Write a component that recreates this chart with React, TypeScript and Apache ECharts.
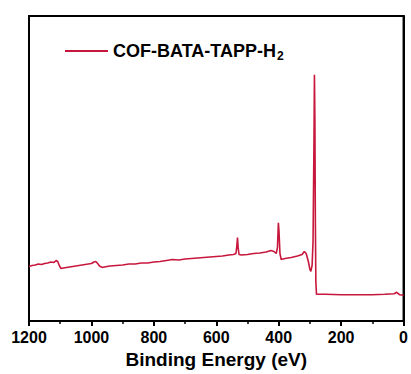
import React, { useEffect, useRef } from "react";
import * as echarts from "echarts";

const seriesName = "COF-BATA-TAPP-H2";
const energies = [
  1200, 1190, 1180, 1170, 1160, 1150, 1140, 1130, 1120, 1113, 1108, 1103, 1098, 1090, 1080, 1070, 1060, 1050, 1040, 1030,
  1020, 1010, 1000, 992, 986, 980, 974, 966, 958, 950, 940, 920, 900, 880, 860, 840, 820, 800, 780, 760,
  740, 720, 700, 680, 660, 640, 620, 600, 580, 560, 545, 537, 534, 532, 530, 527, 520, 500, 480, 460,
  440, 425, 415, 408, 404, 401, 399, 396, 392, 380, 360, 340, 325, 318, 312, 305, 300, 297, 293, 290,
  287, 285.5, 284, 282.5, 281, 279, 270, 250, 200, 150, 100, 60, 30, 22, 18, 12, 0,
];
const intensities = [
  55, 56, 56.5, 57.5, 57, 58, 58.5, 59.5, 59, 61, 60, 56, 53, 53.5, 54, 54.5, 55, 55.5, 56, 56.5,
  57, 57.5, 58, 59.5, 60, 58, 55.5, 54, 54.5, 55, 55.5, 56, 56.5, 57.5, 57.5, 58.5, 58.5, 59.5, 60, 61,
  62, 61.5, 62.5, 63, 63.5, 64, 64.5, 65, 65.5, 66.5, 67, 68, 76, 84, 74, 67, 66.5, 67, 68, 68.5,
  69.5, 71, 70, 68, 74, 99, 90, 68, 62, 63, 64, 65.5, 67, 70, 68, 60, 52, 50, 56, 80,
  180, 248, 200, 100, 40, 27, 27, 27, 26.5, 26.5, 26.5, 27, 27.5, 29, 28, 26.5, 26,
];
const xTicks = { min: 0, max: 1200, interval: 200 };
const axisTitle = "Binding Energy (eV)";

const FONT = "'Liberation Sans', Arial, sans-serif";

export default function App() {
  const ref = useRef<HTMLDivElement>(null);
  useEffect(() => {
    if (!ref.current) return;
    const chart = echarts.init(ref.current, null, { renderer: "svg" });
    const data = energies.map((e, i) => [e, intensities[i]]);
    chart.setOption({
      animation: false,
      backgroundColor: "#ffffff",
      grid: {
        left: 29,
        right: 4,
        top: 16,
        bottom: 51,
        show: true,
        borderColor: "#000",
        borderWidth: 2,
        backgroundColor: "transparent",
      },
      legend: {
        show: true,
        left: 65,
        top: 42,
        padding: 0,
        icon: "rect",
        itemWidth: 43,
        itemHeight: 2,
        itemGap: 6,
        data: [seriesName],
        formatter: () => "{a|COF-BATA-TAPP-H}{b|2}",
        textStyle: {
          rich: {
            a: { fontSize: 18, fontWeight: "bold", fontFamily: FONT, color: "#000" },
            b: { fontSize: 12, fontWeight: "bold", fontFamily: FONT, color: "#000", padding: [10, 0, 0, 1] },
          },
        },
      },
      xAxis: {
        type: "value",
        inverse: true,
        min: xTicks.min,
        max: xTicks.max,
        interval: xTicks.interval,
        name: axisTitle,
        nameLocation: "middle",
        nameGap: 27,
        nameTextStyle: { fontSize: 19, fontWeight: "bold", fontFamily: FONT, color: "#000" },
        axisLine: { show: true, lineStyle: { color: "#000", width: 2 } },
        axisTick: { show: true, inside: false, length: 5, lineStyle: { color: "#000", width: 2 } },
        minorTick: { show: true, splitNumber: 2, length: 3, lineStyle: { color: "#000", width: 1.5 } },
        axisLabel: {
          fontSize: 16,
          fontWeight: "bold",
          fontFamily: FONT,
          color: "#000",
          margin: 8,
          showMinLabel: true,
          showMaxLabel: true,
          formatter: (v: number) => String(v),
        },
        splitLine: { show: false },
      },
      yAxis: {
        type: "value",
        min: 0,
        max: 307,
        axisLine: { show: true, lineStyle: { color: "#000", width: 2 } },
        axisTick: { show: false },
        axisLabel: { show: false },
        splitLine: { show: false },
      },
      series: [
        {
          name: seriesName,
          type: "line",
          data,
          showSymbol: false,
          symbol: "none",
          color: "#C8173C",
          lineStyle: { color: "#C8173C", width: 1.6 },
        },
      ],
    });
    return () => chart.dispose();
  }, []);
  return (
    <div
      ref={ref}
      style={{ position: "fixed", left: 0, top: 0, width: 411, height: 374, background: "#fff" }}
    />
  );
}
